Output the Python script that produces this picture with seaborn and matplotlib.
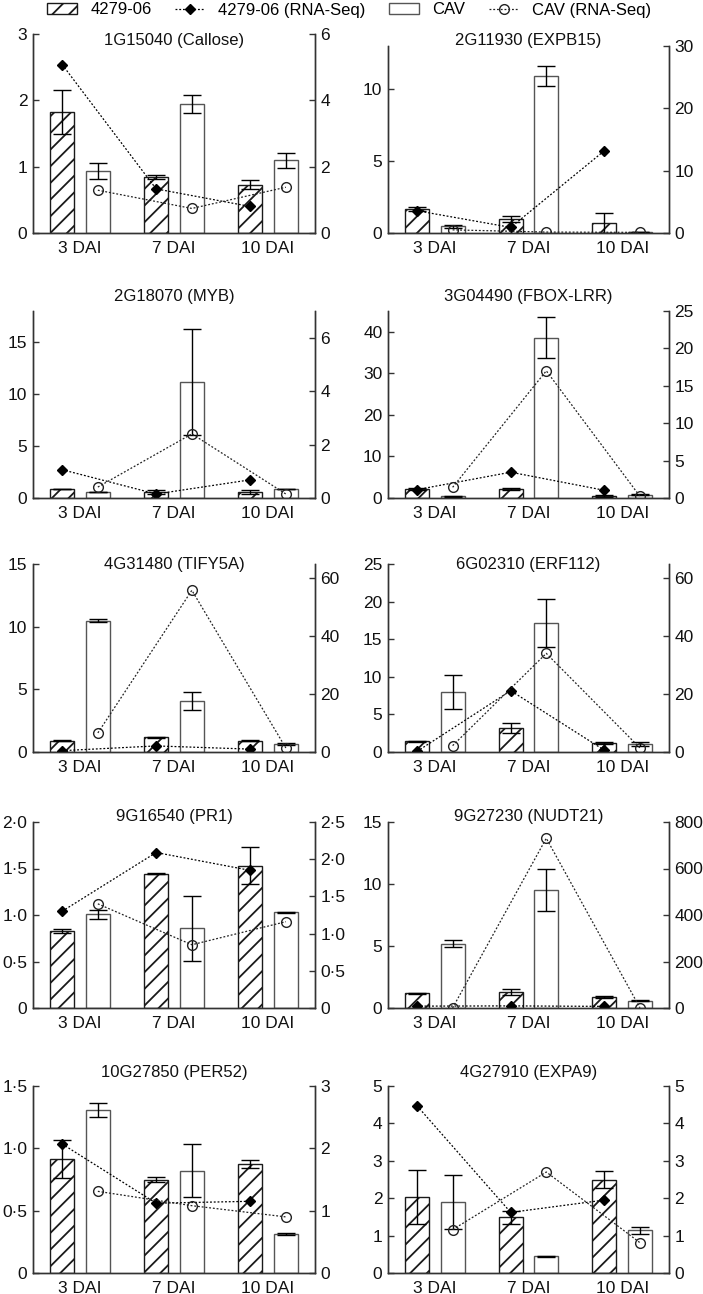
import numpy as np
import pandas as pd
import matplotlib
matplotlib.use("Agg")
import matplotlib.pyplot as plt
import seaborn as sns
from matplotlib.patches import Patch
from matplotlib.lines import Line2D
from matplotlib.ticker import MultipleLocator, FuncFormatter

# Data
days = ["3 DAI", "7 DAI", "10 DAI"]
cultivars = ["4279-06", "CAV"]
genes = ["1G15040 (Callose)", "2G11930 (EXPB15)", "2G18070 (MYB)", "3G04490 (FBOX-LRR)",
         "4G31480 (TIFY5A)", "6G02310 (ERF112)", "9G16540 (PR1)", "9G27230 (NUDT21)",
         "10G27850 (PER52)", "4G27910 (EXPA9)"]

# qPCR relative expression (bars) and standard errors
qpcr_4279 = [[1.83, 0.85, 0.73], [1.69, 0.97, 0.72], [0.87, 0.58, 0.58], [2.16, 2.16, 0.56],
             [0.90, 1.17, 0.90], [1.42, 3.19, 1.20], [0.825, 1.446, 1.532], [1.17, 1.28, 0.90],
             [0.915, 0.75, 0.875], [2.03, 1.49, 2.50]]
qpcr_4279_se = [[0.33, 0.03, 0.07], [0.15, 0.18, 0.70], [0.03, 0.15, 0.15], [0.25, 0.25, 0.25],
                [0.03, 0.03, 0.03], [0.05, 0.65, 0.09], [0.02, 0.005, 0.20], [0.03, 0.27, 0.09],
                [0.155, 0.02, 0.03], [0.73, 0.17, 0.22]]
qpcr_cav = [[0.935, 1.945, 1.095], [0.46, 10.9, 0.07], [0.58, 11.12, 0.87], [0.40, 38.6, 0.80],
            [10.48, 4.07, 0.61], [7.98, 17.16, 1.06], [1.007, 0.857, 1.029], [5.20, 9.49, 0.59],
            [1.305, 0.822, 0.312], [1.89, 0.445, 1.14]]
qpcr_cav_se = [[0.12, 0.13, 0.11], [0.12, 0.68, 0.0], [0.03, 5.1, 0.03], [0.05, 4.9, 0.05],
               [0.13, 0.70, 0.09], [2.2, 3.2, 0.22], [0.045, 0.35, 0.005], [0.28, 1.7, 0.05],
               [0.055, 0.21, 0.005], [0.72, 0.01, 0.09]]

# RNA-Seq fold changes (right axis)
rna_4279 = [[5.08, 1.33, 0.80], [3.57, 0.90, 13.2], [1.06, 0.15, 0.68], [1.12, 3.45, 1.03],
            [0.46, 2.1, 1.0], [0.2, 21.2, 0.6], [1.30, 2.09, 1.85], [8.0, 9.0, 7.0],
            [2.07, 1.12, 1.15], [4.47, 1.62, 1.95]]
rna_cav = [[1.29, 0.74, 1.38], [0.5, 0.15, 0.1], [0.41, 2.40, 0.15], [1.43, 17.0, 0.22],
           [6.6, 55.9, 1.4], [2.2, 34.1, 1.4], [1.40, 0.85, 1.16], [0.5, 730.0, 1.0],
           [1.31, 1.08, 0.90], [1.16, 2.70, 0.81]]

left_ylim = [3, 13, 18, 45, 15, 25, 2.0, 15, 1.5, 5]
left_step = [1, 5, 5, 10, 5, 5, 0.5, 5, 0.5, 1]
right_ylim = [6, 30, 7, 25, 65, 65, 2.5, 800, 3, 5]
right_step = [2, 10, 2, 5, 20, 20, 0.5, 200, 1, 1]

# Layout in pixels (top, bottom) per panel
W, H = 703, 1294
rows_px = [(34, 233), (46, 233), (311, 498), (311, 498), (564, 752), (564, 752),
           (822, 1008), (822, 1008), (1086, 1273), (1086, 1273)]
title_y = [40, 40, 297, 297, 564, 564, 817, 817, 1073, 1073]
cols_px = [(33, 315), (388, 669)]

plt.rcParams['font.family'] = ['Liberation Sans', 'DejaVu Sans']
plt.rcParams['font.size'] = 12
plt.rcParams['hatch.linewidth'] = 1.3

spine_c = '#333333'
edge_c = '#555555'

fig = plt.figure(figsize=(W / 100, H / 100), dpi=100)


def fmt_for(step):
    def f(v, pos):
        if abs(v) < 1e-9:
            return '0'
        if step < 1:
            return f'{v:.1f}'.replace('.', '\u00b7')
        return f'{v:.0f}'
    return FuncFormatter(f)


for i, gene in enumerate(genes):
    top, bot = rows_px[i]
    x0, x1 = cols_px[i % 2]
    ax = fig.add_axes([x0 / W, 1 - bot / H, (x1 - x0) / W, (bot - top) / H])

    df = pd.DataFrame({
        'day': days * 2,
        'cultivar': [cultivars[0]] * 3 + [cultivars[1]] * 3,
        'value': qpcr_4279[i] + qpcr_cav[i],
    })
    sns.barplot(data=df, x='day', y='value', hue='cultivar', order=days,
                hue_order=cultivars, palette={'4279-06': 'white', 'CAV': 'white'},
                errorbar=None, width=0.76, gap=0.33, legend=False, ax=ax,
                linewidth=1.0)

    ses = [qpcr_4279_se[i], qpcr_cav_se[i]]
    bar_conts = list(ax.containers)
    centers = []
    for k, cont in enumerate(bar_conts):
        xs, hs = [], []
        for bar in cont:
            if k == 0:
                bar.set_hatch('//')
                bar.set_edgecolor('#1a1a1a')
            else:
                bar.set_edgecolor(edge_c)
            xs.append(bar.get_x() + bar.get_width() / 2)
            hs.append(bar.get_height())
        centers.append(xs)
        ax.errorbar(xs, hs, yerr=ses[k], fmt='none', ecolor='black',
                    elinewidth=1.0, capsize=6.8, capthick=1.0, zorder=3)

    ax.set_xlim(-0.5, 2.5)
    ax.set_ylim(0, left_ylim[i])
    ax.yaxis.set_major_locator(MultipleLocator(left_step[i]))
    ax.yaxis.set_major_formatter(fmt_for(left_step[i]))
    ax.set_xlabel('')
    ax.set_ylabel('')

    ax2 = ax.twinx()
    ax2.plot(centers[0], rna_4279[i], color='black', linestyle=(0, (1.5, 1.5)),
             linewidth=0.9, marker='D', markersize=5, markerfacecolor='black',
             markeredgecolor='black')
    ax2.plot(centers[1], rna_cav[i], color='#222222', linestyle=(0, (1.5, 1.5)),
             linewidth=0.9, marker='o', markersize=7, markerfacecolor='none',
             markeredgecolor='#222222', markeredgewidth=1.0)
    ax2.set_ylim(0, right_ylim[i])
    ax2.yaxis.set_major_locator(MultipleLocator(right_step[i]))
    ax2.yaxis.set_major_formatter(fmt_for(right_step[i]))
    ax2.set_xlim(-0.5, 2.5)

    for a in (ax, ax2):
        a.spines['top'].set_visible(False)
        for s in ('left', 'right', 'bottom'):
            a.spines[s].set_color(spine_c)
            a.spines[s].set_linewidth(1.0)
        a.tick_params(axis='y', direction='in', length=4, width=1.0, color=spine_c,
                      labelsize=12.5, pad=4, labelcolor='#111111')
    ax.tick_params(axis='x', length=0, labelsize=12.5, pad=6, labelcolor='#111111')
    ax.set_facecolor('none')

    fig.text((x0 + x1) / 2 / W, 1 - title_y[i] / H, gene, ha='center', va='center',
             fontsize=12, color='#111111')

handles = [
    Patch(facecolor='white', edgecolor='#1a1a1a', hatch='//', linewidth=1.0),
    Line2D([], [], color='black', linestyle=(0, (1.5, 1.5)), linewidth=0.9, marker='D',
           markersize=5, markerfacecolor='black'),
    Patch(facecolor='white', edgecolor=edge_c, linewidth=1.0),
    Line2D([], [], color='#222222', linestyle=(0, (1.5, 1.5)), linewidth=0.9, marker='o',
           markersize=7, markerfacecolor='none', markeredgecolor='#222222'),
]
labels = ['4279-06', '4279-06 (RNA-Seq)', 'CAV', 'CAV (RNA-Seq)']
fig.legend(handles, labels, loc='center', bbox_to_anchor=(349 / W, 1 - 10 / H), ncol=4,
           frameon=False, fontsize=12, handlelength=1.8, handletextpad=0.8,
           columnspacing=1.4, handleheight=0.6)

fig.savefig('out.png', dpi=100)
